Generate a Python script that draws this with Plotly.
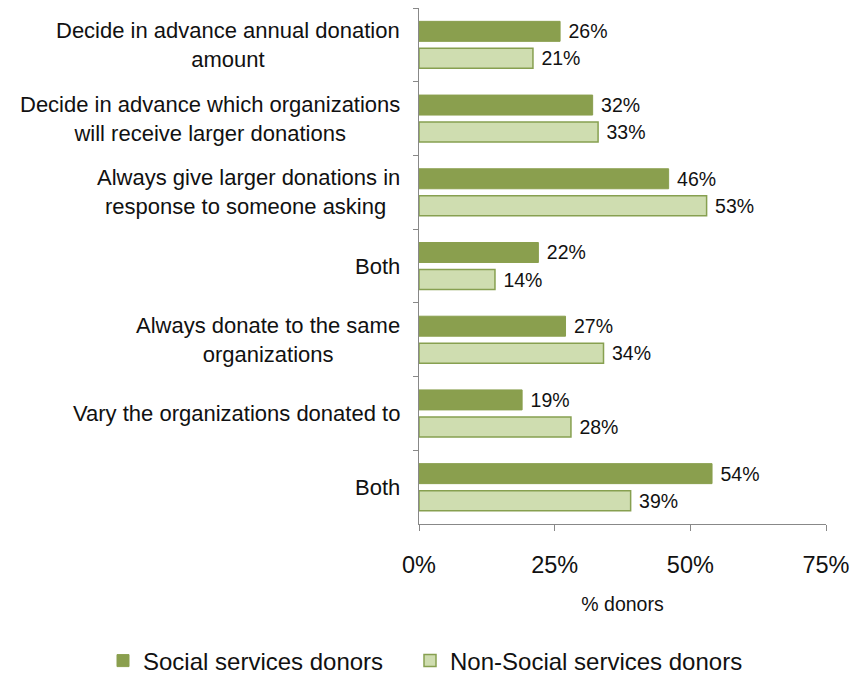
import plotly.graph_objects as go

categories = [
    "Decide in advance annual donation<br>amount",
    "Decide in advance which organizations<br>will receive larger donations",
    "Always give larger donations in<br>response to someone asking ",
    "Both",
    "Always donate to the same<br>organizations",
    "Vary the organizations donated to",
    "Both",
]
social = [26, 32, 46, 22, 27, 19, 54]
non_social = [21, 33, 53, 14, 34, 28, 39]
series_names = ["Social services donors", "Non-Social services donors"]
x_ticks = [0, 25, 50, 75]
x_tick_labels = ["0%", "25%", "50%", "75%"]

# unique category keys so repeated "Both" labels get their own rows
keys = [f"c{i}" for i in range(len(categories))]

DARK = "#8A9F4E"
LIGHT = "#CFDDB0"
EDGE = "#87A050"
FONT = "Liberation Sans, Arial, sans-serif"
W, H = 853, 679

fig = go.Figure()
fig.add_trace(go.Bar(
    y=keys, x=social, orientation="h", name=series_names[0],
    marker=dict(color=DARK, line=dict(color=DARK, width=1)),
    text=[f" {v}%" for v in social], textposition="outside",
    textfont=dict(size=19.5, color="#111", family=FONT),
    cliponaxis=False, constraintext="none", legend="legend",
))
fig.add_trace(go.Bar(
    y=keys, x=non_social, orientation="h", name=series_names[1],
    marker=dict(color=LIGHT, line=dict(color=EDGE, width=1.5)),
    text=[f" {v}%" for v in non_social], textposition="outside",
    textfont=dict(size=19.5, color="#111", family=FONT),
    cliponaxis=False, constraintext="none", legend="legend2",
))

for k, label in zip(keys, categories):
    fig.add_annotation(
        x=0, xref="paper", y=k, yref="y", text=label,
        xanchor="right", align="center", showarrow=False, xshift=-17,
        font=dict(size=22, color="#111", family=FONT),
    )

legend_common = dict(
    xref="container", yref="container", xanchor="left",
    y=1 - 661 / H, yanchor="middle",
    font=dict(size=24, family=FONT, color="#111"),
    itemwidth=30, bgcolor="rgba(0,0,0,0)",
)

fig.update_layout(
    width=W, height=H,
    margin=dict(l=419, r=27, t=8, b=155, autoexpand=False),
    paper_bgcolor="white", plot_bgcolor="white",
    barmode="group", bargap=0.267, bargroupgap=0.26,
    font=dict(family=FONT, color="#111"),
    showlegend=True,
    legend=dict(x=(143 - 40) / W, **legend_common),
    legend2=dict(x=(450 - 40) / W, **legend_common),
    xaxis=dict(
        range=[0, 75], tickvals=x_ticks, ticktext=x_tick_labels,
        showgrid=False, zeroline=False,
        showline=True, linecolor="#888", linewidth=1,
        ticks="outside", ticklen=6, tickcolor="#888",
        tickfont=dict(size=23.5, family=FONT, color="#111"),
        ticklabelstandoff=14,
        title=dict(text="% donors", font=dict(size=19.5, family=FONT, color="#111"), standoff=20),
        automargin=False,
    ),
    yaxis=dict(
        categoryorder="array", categoryarray=keys,
        autorange="reversed",
        showticklabels=False, showgrid=False, zeroline=False,
        showline=True, linecolor="#888", linewidth=1,
        ticks="outside", ticklen=5, tickcolor="#888", tickson="boundaries",
        automargin=False,
    ),
)

fig.write_html("out.html")
